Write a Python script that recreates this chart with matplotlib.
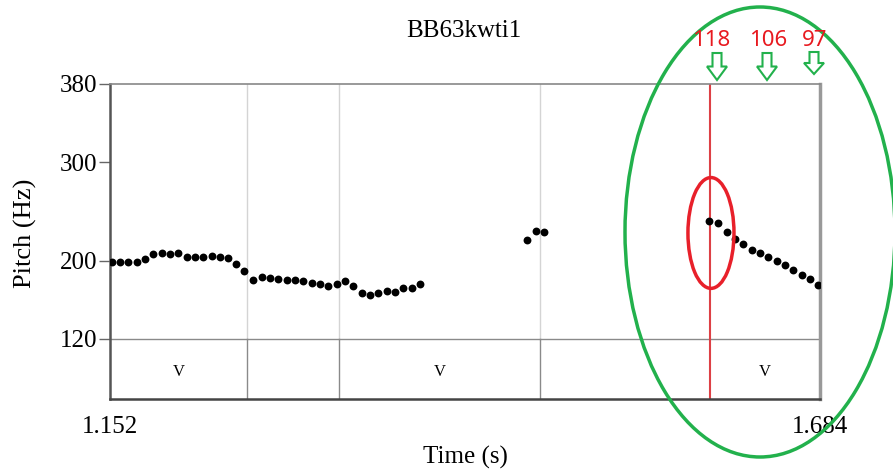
import matplotlib
matplotlib.use("Agg")
import matplotlib.pyplot as plt
from matplotlib.patches import Ellipse, Polygon

# pitch track (s, Hz)
times_a = [1.1533, 1.1595, 1.1657, 1.1720, 1.1782, 1.1844, 1.1907, 1.1970, 1.2032,
           1.2095, 1.2157, 1.2219, 1.2282, 1.2344, 1.2406, 1.2464, 1.2526, 1.2589,
           1.2657, 1.2719, 1.2781, 1.2844, 1.2906, 1.2968, 1.3031, 1.3093, 1.3156,
           1.3219, 1.3281, 1.3343, 1.3406, 1.3468, 1.3530, 1.3593, 1.3655, 1.3718,
           1.3781, 1.3843]
pitch_a = [198.2, 198.9, 198.2, 198.9, 201.3, 206.7, 208.0, 206.4, 208.0,
           203.3, 203.3, 203.3, 204.4, 203.3, 202.6, 196.2, 189.1, 179.9,
           183.5, 182.5, 180.9, 180.2, 180.2, 179.5, 176.8, 175.8, 174.4,
           176.1, 179.5, 174.1, 166.6, 164.6, 166.6, 169.3, 168.3, 172.0,
           172.0, 176.1]
times_b = [1.4647, 1.4710, 1.4772]
pitch_b = [221.0, 230.2, 229.4]
times_c = [1.6011, 1.6078, 1.6141, 1.6203, 1.6265, 1.6328, 1.6390, 1.6453,
           1.6516, 1.6578, 1.6640, 1.6703, 1.6765, 1.6828]
pitch_c = [240.7, 238.0, 228.8, 222.0, 216.9, 210.8, 207.4, 203.3,
           199.9, 195.5, 190.4, 185.3, 181.2, 175.1]

t_start, t_end = 1.152, 1.684
y_ticks = [120, 200, 300, 380]
boundaries = [1.2547, 1.3236, 1.4742]
marked_time = 1.6016
tier_labels = ["V", "", "V", "", "V"]
annot_labels = ["118", "106", "97"]
title = "BB63kwti1"

W, H = 893, 470
fig = plt.figure(figsize=(W / 100, H / 100), dpi=100)
ax = fig.add_axes([110 / W, 1 - 399 / H, 710 / W, 315 / H])

serif = "Liberation Serif"
y_bot = 58.8
ax.set_xlim(t_start, t_end)
ax.set_ylim(y_bot, 380)

# interval tier
ax.axhline(120, color="#8a8a8a", lw=1)
for b in boundaries:
    ax.plot([b, b], [120, 380], color="#d4d4d4", lw=1, zorder=1)
    ax.plot([b, b], [y_bot, 120], color="#8a8a8a", lw=1, zorder=1)
ax.axvline(marked_time, color="#dd4045", lw=1.5, zorder=2)
edges = [t_start] + boundaries + [marked_time, t_end]
for i, lab in enumerate(tier_labels):
    if lab:
        ax.text((edges[i] + edges[i + 1]) / 2, 86.4, lab, ha="center", va="center",
                family=serif, fontsize=12)

# pitch points
for t, p in [(times_a, pitch_a), (times_b, pitch_b), (times_c, pitch_c)]:
    ax.scatter(t, p, s=32, color="black", zorder=3, linewidths=0)

ax.set_yticks(y_ticks)
ax.set_yticklabels([str(v) for v in y_ticks], family=serif, fontsize=18)
ax.set_xticks([t_start, t_end])
ax.set_xticklabels(["1.152", "1.684"], family=serif, fontsize=18)
ax.tick_params(axis="y", length=8, width=1, color="#666666", pad=1)
ax.tick_params(axis="x", length=0, pad=12)

for side, c, w in [("left", "#555555", 1.8), ("bottom", "#444444", 1.8),
                   ("top", "#888888", 1.2), ("right", "#999999", 2.5)]:
    ax.spines[side].set_color(c)
    ax.spines[side].set_linewidth(w)

fig.text(464 / W, 1 - 31 / H, title, ha="center", va="center", family=serif, fontsize=18)
fig.text(465 / W, 1 - 457 / H, "Time (s)", ha="center", va="center", family=serif,
         fontsize=18)
fig.text(25 / W, 1 - 233 / H, "Pitch (Hz)", ha="center", va="center", family=serif,
         fontsize=19, rotation=90)

# red ellipse around the marked onset
ax.add_patch(Ellipse((1.6023, 228.1), 0.0345, 113, fill=False, ec="#e8202a", lw=2.5,
                     zorder=4))

# green ellipse (figure pixels)
fig.add_artist(Ellipse((760 / W, 1 - 232 / H), 270 / W, 450 / H, fill=False,
                       ec="#22b14c", lw=2.5, transform=fig.transFigure, clip_on=False))

# red values with hollow down arrows
text_x = [711, 768, 815]
arrow_x = [717, 767, 814]
arrow_top = [53, 53, 52]
arrow_len = [27, 27, 22]
for lab, tx, ax_, at, al in zip(annot_labels, text_x, arrow_x, arrow_top, arrow_len):
    fig.text(tx / W, 1 - 40 / H, lab, ha="center", va="center", color="#e8191f",
             family="Noto Sans", fontsize=16)
    sh = at + al * 0.5
    pts = [(ax_ - 4.5, at), (ax_ + 4.5, at), (ax_ + 4.5, sh), (ax_ + 10, sh),
           (ax_, at + al), (ax_ - 10, sh), (ax_ - 4.5, sh)]
    fig.add_artist(Polygon([(x / W, 1 - y / H) for x, y in pts], closed=True, fill=False,
                           ec="#22b14c", lw=1.5, transform=fig.transFigure))

fig.savefig("out.png", dpi=100)
